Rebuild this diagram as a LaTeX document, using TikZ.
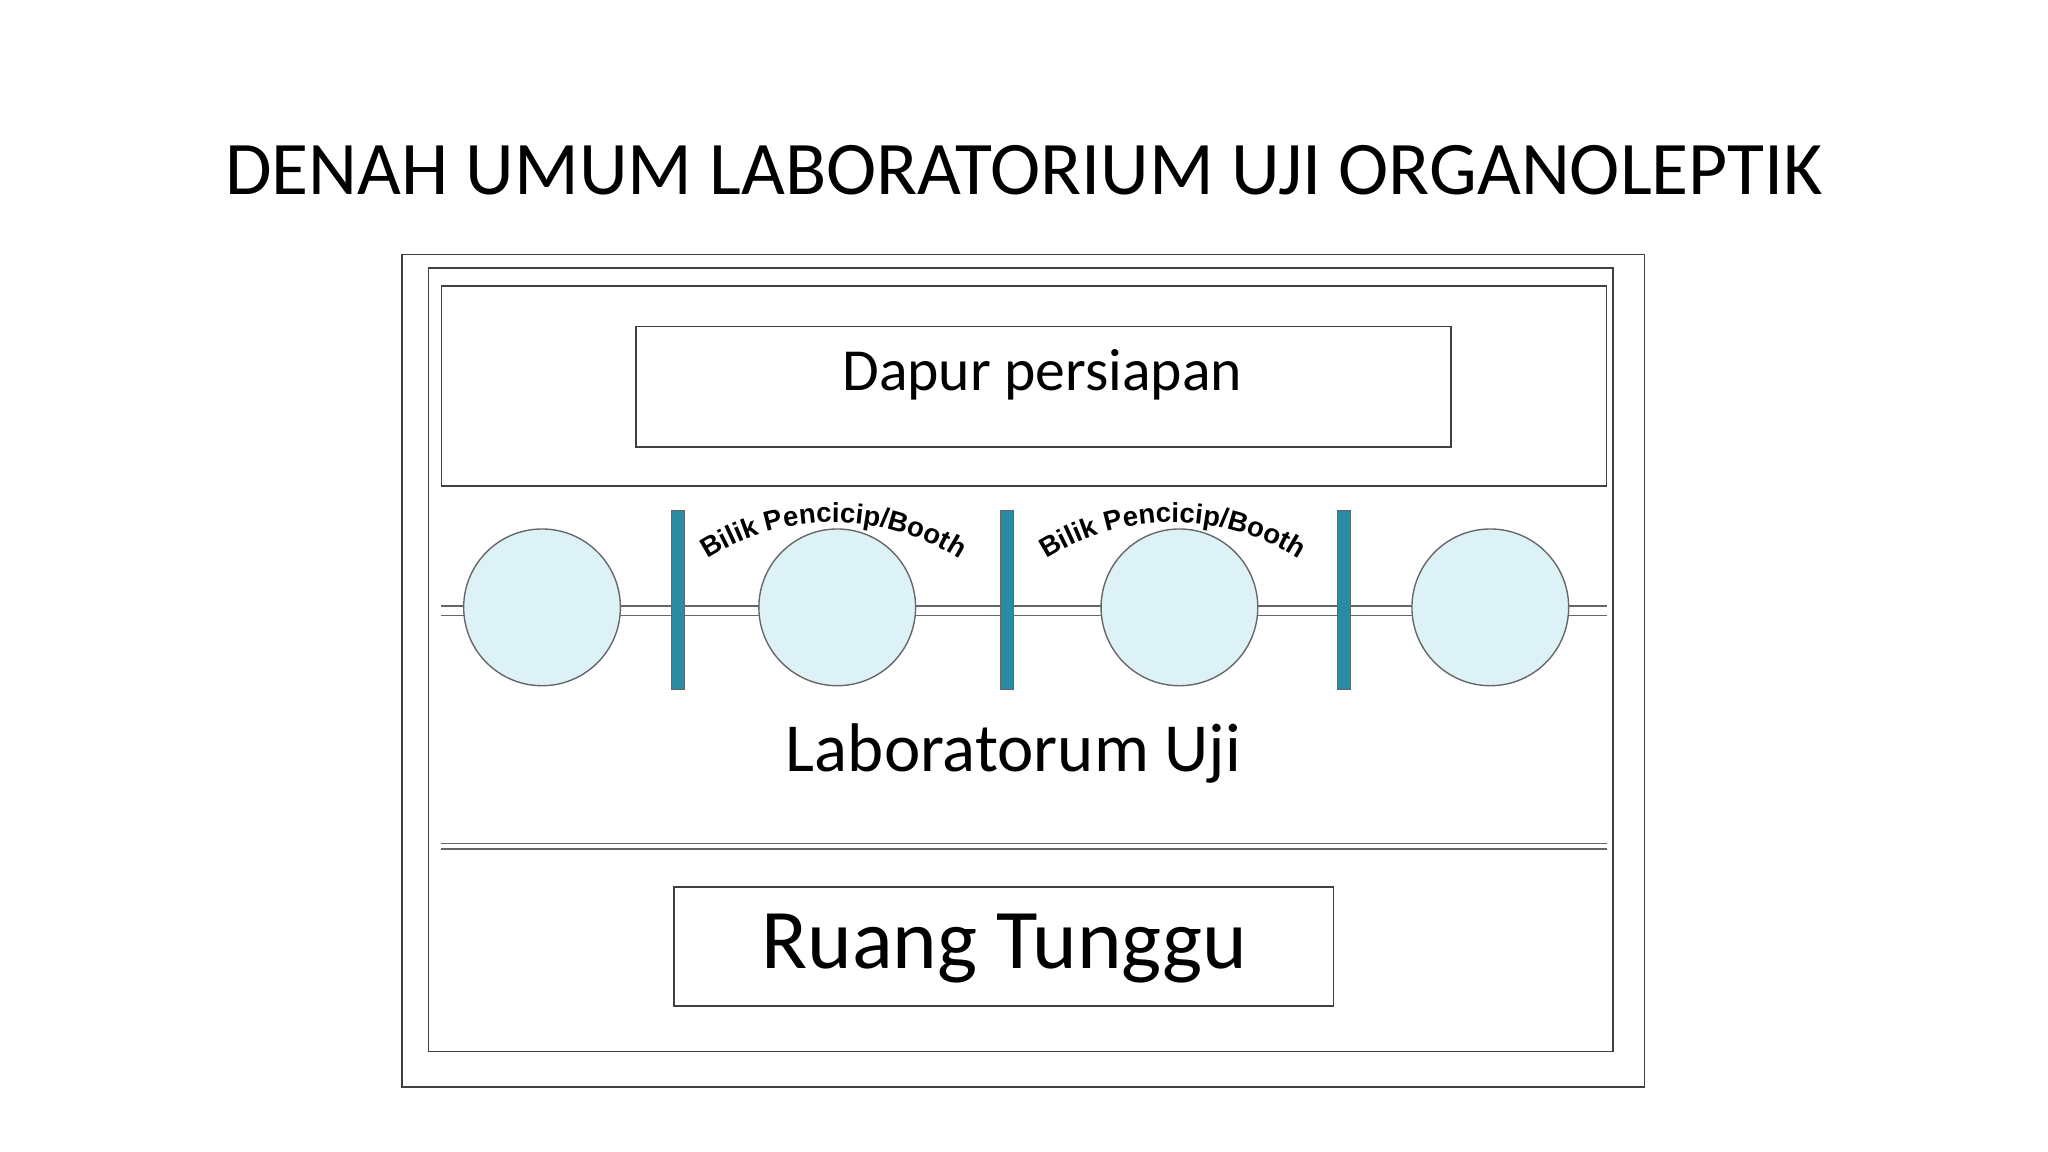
\documentclass[tikz,border=0pt]{standalone}
\usepackage{fontspec}
\setmainfont{Carlito}
\newfontfamily\arialf{Liberation Sans}
\usetikzlibrary{decorations.text}
\definecolor{boothbar}{HTML}{2A8CA3}
\definecolor{roomcirc}{HTML}{DDF2F6}
\begin{document}
\begin{tikzpicture}[x=0.02cm,y=-0.02cm,
  room/.style={draw=black!75,line width=0.7pt},
  circ/.style={draw=black!60,fill=roomcirc,line width=0.6pt},
  bar/.style={draw=black!60,fill=boothbar,line width=0.4pt},
  wall/.style={draw=black!60,line width=0.6pt}]
\useasboundingbox (0,0) rectangle (1568,882);
\node (title) at (784,130) {\fontsize{33}{38}\selectfont DENAH UMUM LABORATORIUM UJI ORGANOLEPTIK};
\draw[room] (308,195) rectangle (1259,832);
\draw[room] (328,205) rectangle (1235,805);
\draw[room] (338,219) rectangle (1230,372);
\draw[room] (487,250) rectangle (1111,342);
\node (dapur) at (798,287) {\fontsize{26}{30}\selectfont Dapur persiapan};
\draw[wall] (338,464) -- (1230,464);
\draw[wall] (338,471) -- (1230,471);
\foreach \n/\x in {c1/415,c2/641,c3/903,c4/1141}
  \draw[circ] (\x,465) circle (60);
\foreach \x in {519,771,1029}
  \draw[bar] (\x-5,391) rectangle (\x+5,528);
\foreach \x in {638,898}
  \path[decorate,decoration={text along path,text align=center,
    text={|\arialf\bfseries\fontsize{12}{13}\selectfont|Bilik Pencicip/Booth}}]
    (\x,580) ++(-128:180) arc[start angle=-128,end angle=-52,radius=180];
\node (lab) at (776,577) {\fontsize{30}{36}\selectfont Laboratorum Uji};
\draw[wall] (338,646) -- (1230,646);
\draw[wall] (338,650) -- (1230,650);
\draw[room] (516,679) rectangle (1021,770);
\node (ruang) at (769,726) {\fontsize{37}{44}\selectfont Ruang Tunggu};
\end{tikzpicture}
\end{document}
